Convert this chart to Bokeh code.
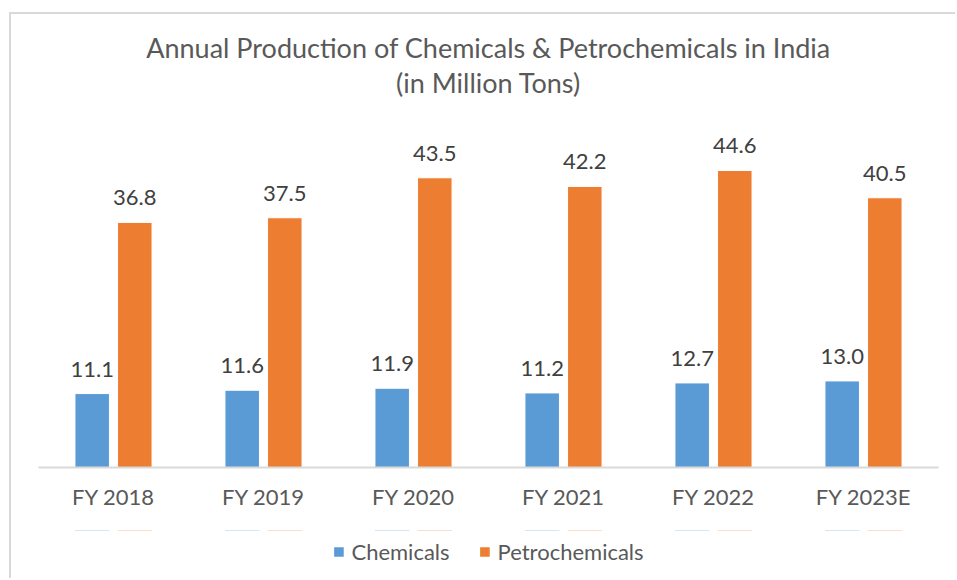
from bokeh.plotting import figure
from bokeh.layouts import column
from bokeh.models import ColumnDataSource, LabelSet, Legend, LegendItem, Title, Range1d, FactorRange
from bokeh.core.properties import value
from bokeh.transform import dodge
from bokeh.embed import file_html
from bokeh.resources import INLINE

years = ["FY 2018", "FY 2019", "FY 2020", "FY 2021", "FY 2022", "FY 2023E"]
chemicals = [11.1, 11.6, 11.9, 11.2, 12.7, 13.0]
petrochemicals = [36.8, 37.5, 43.5, 42.2, 44.6, 40.5]
series_names = ["Chemicals", "Petrochemicals"]

src = ColumnDataSource(dict(
    years=years,
    chem=chemicals,
    petro=petrochemicals,
    chem_lbl=[f"{v:.1f}" for v in chemicals],
    petro_lbl=[f"{v:.1f}" for v in petrochemicals],
))

FONT = "Lato"
GREY = "#595959"
BLUE = "#5b9bd5"
ORANGE = "#ed7d31"

x_range = FactorRange(*years, range_padding=0)
p = figure(x_range=x_range, y_range=Range1d(0, 50),
           width=944, height=516, output_backend="svg", toolbar_location=None,
           min_border_left=27, min_border_right=17, min_border_top=120, min_border_bottom=63)

p.background_fill_color = "white"
p.border_fill_color = "white"
p.outline_line_color = None

OFF = 0.142
BW = 0.23
r1 = p.vbar(x=dodge("years", -OFF, range=x_range), top="chem", width=BW, source=src,
            fill_color=BLUE, line_color="white", line_width=1)
r2 = p.vbar(x=dodge("years", OFF, range=x_range), top="petro", width=BW, source=src,
            fill_color=ORANGE, line_color="white", line_width=1)

for col, lbl, off in (("chem", "chem_lbl", -OFF), ("petro", "petro_lbl", OFF)):
    ls = LabelSet(x=dodge("years", off, range=x_range), y=col, text=lbl, source=src,
                  text_align="center", text_baseline="alphabetic", y_offset=17,
                  text_font=value(FONT), text_font_size=value("22px"), text_color="#404040")
    p.add_layout(ls)

# titles (first added sits closest to the frame)
spacer = Title(text=" ", align="center", text_font_size="1px", standoff=33)
t2 = Title(text="(in Million Tons)", align="center", text_font=FONT, text_font_size="27px",
           text_color=GREY, text_font_style="normal", standoff=0)
t1 = Title(text="Annual Production of Chemicals & Petrochemicals in India", align="center",
           text_font=FONT, text_font_size="27px", text_color=GREY, text_font_style="normal", standoff=0)
p.add_layout(spacer, "above")
p.add_layout(t2, "above")
p.add_layout(t1, "above")

# axes
p.yaxis.visible = False
p.ygrid.visible = False
p.xgrid.visible = False
p.xaxis.axis_line_color = "#d9d9d9"
p.xaxis.axis_line_width = 2
p.xaxis.major_tick_line_color = None
p.xaxis.minor_tick_line_color = None
p.xaxis.major_label_text_font = FONT
p.xaxis.major_label_text_font_size = "22px"
p.xaxis.major_label_text_color = GREY
p.xaxis.major_label_standoff = 9

# legend strip below the chart (its proxy bars lie far outside its visible y range)
p2 = figure(x_range=x_range, y_range=Range1d(-1001, -1000), width=944, height=48,
            output_backend="svg", toolbar_location=None,
            x_axis_location=None, y_axis_location=None,
            min_border_left=27, min_border_right=17, min_border_top=0, min_border_bottom=6)
p2.background_fill_color = "white"
p2.border_fill_color = "white"
p2.outline_line_color = None
p2.grid.visible = False
l1 = p2.vbar(x=dodge("years", -OFF, range=x_range), top="chem", width=BW, source=src,
             fill_color=BLUE, line_color=None)
l2 = p2.vbar(x=dodge("years", OFF, range=x_range), top="petro", width=BW, source=src,
             fill_color=ORANGE, line_color=None)
legend = Legend(items=[LegendItem(label=series_names[0], renderers=[l1]),
                       LegendItem(label=series_names[1], renderers=[l2])],
                orientation="horizontal", location="center",
                label_text_font=FONT, label_text_font_size="22px", label_text_color=GREY,
                glyph_width=12, glyph_height=12, label_standoff=7, spacing=29,
                border_line_color=None, background_fill_alpha=0, padding=0, margin=0)
p2.add_layout(legend, "center")

layout = column(p, p2, spacing=0,
                styles={"margin-left": "9px", "margin-top": "12px",
                        "border-left": "2px solid #d9d9d9", "border-top": "2px solid #d9d9d9"})

open("out.html", "w").write(file_html(layout, INLINE))
